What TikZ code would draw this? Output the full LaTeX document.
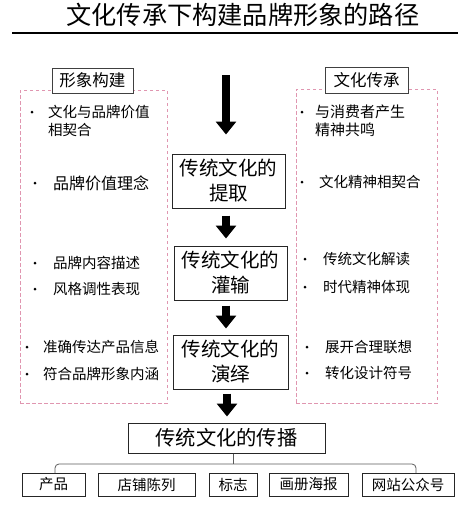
\documentclass[tikz,border=0pt]{standalone}
\usepackage{fontspec}
\setmainfont{Noto Sans CJK SC}
\usetikzlibrary{arrows.meta,calc}
\definecolor{pinkdash}{RGB}{224,150,176}
\definecolor{treegray}{RGB}{90,90,90}
\tikzset{
  dashbox/.style={draw=pinkdash, dash pattern=on 3.5pt off 2.5pt, line width=0.8pt},
  labelbox/.style={draw=black!75, fill=white, line width=0.8pt, inner sep=0pt},
  flowbox/.style={draw=black!85, line width=1pt, fill=white, inner sep=0pt, minimum height=54pt, align=center, font=\fontsize{19.5}{25}\selectfont},
  smallbox/.style={draw=black!85, line width=1pt, inner sep=0pt, minimum height=23pt, font=\fontsize{14.5}{16}\selectfont},
  bigarrow/.style={line width=7.5pt, -{Triangle[width=20pt,length=13pt]}},
  bul/.style={circle, fill=black, inner sep=0pt, minimum size=3pt},
  item/.style={anchor=west, inner sep=0pt, align=left, font=\fontsize{14.5}{18}\selectfont},
}
\begin{document}
\begin{tikzpicture}[x=1pt,y=-1pt]
\useasboundingbox (0,0) rectangle (466,507);
% title
\node[inner sep=0pt, font=\fontsize{25.2}{27}\selectfont] (title) at (243,15) {文化传承下构建品牌形象的路径};
\coordinate (tl) at (12,33);
\coordinate (tr) at (458,33);
\draw[line width=2pt] (tl) -- (tr);

% dashed groups
\node[dashbox, minimum width=147pt, minimum height=313pt, inner sep=0pt] (lgroup) at (93.5,246.5) {};
\node[dashbox, minimum width=141pt, minimum height=314pt, inner sep=0pt] (rgroup) at (366.5,246) {};
\node[labelbox, minimum width=81pt, minimum height=25pt, font=\fontsize{16.5}{18}\selectfont] (llabel) at (92.5,80.5) {形象构建};
\node[labelbox, minimum width=83pt, minimum height=26pt, font=\fontsize{16.5}{18}\selectfont] (rlabel) at (366.5,80) {文化传承};

% left items
\node[bul] (lb1) at (32,112) {};
\node[item] (lt1) at (48,121) {文化与品牌价值\\相契合};
\node[bul] (lb2) at (35,183) {};
\node[item, font=\fontsize{16}{18}\selectfont] (lt2) at (53,183) {品牌价值理念};
\node[bul] (lb3) at (35,263) {};
\node[item] (lt3) at (53,263) {品牌内容描述};
\node[bul] (lb4) at (35,289) {};
\node[item] (lt4) at (53,289) {风格调性表现};
\node[bul] (lb5) at (27,347) {};
\node[item] (lt5) at (43,347) {准确传达产品信息};
\node[bul] (lb6) at (27,374) {};
\node[item] (lt6) at (43,374) {符合品牌形象内涵};

% right items
\node[bul] (rb1) at (302,112) {};
\node[item, font=\fontsize{15}{18}\selectfont] (rt1) at (315,121) {与消费者产生\\精神共鸣};
\node[bul] (rb2) at (302,182) {};
\node[item] (rt2) at (319,182) {文化精神相契合};
\node[bul] (rb3) at (305,259) {};
\node[item] (rt3) at (323,259) {传统文化解读};
\node[bul] (rb4) at (305,287) {};
\node[item] (rt4) at (323,287) {时代精神体现};
\node[bul] (rb5) at (307,347) {};
\node[item] (rt5) at (325,347) {展开合理联想};
\node[bul] (rb6) at (307,373) {};
\node[item] (rt6) at (325,373) {转化设计符号};

% central flow
\coordinate (top) at (226,75);
\node[flowbox, minimum width=113pt] (b1) at (228.5,181) {传统文化的\\提取};
\node[flowbox, minimum width=113pt] (b2) at (230.5,273) {传统文化的\\灌输};
\node[flowbox, minimum width=115pt] (b3) at (230.5,362) {传统文化的\\演绎};
\node[draw=black!85, line width=1pt, inner sep=0pt, minimum width=197pt, minimum height=30pt, font=\fontsize{20.3}{22}\selectfont] (main) at (226.5,438) {传统文化的传播};

\draw[bigarrow, shorten >=19pt] (top) -- (top |- b1.north);
\draw[bigarrow, shorten <=7pt, shorten >=7pt] (b1.south -| top) -- (b2.north -| top);
\draw[bigarrow, shorten <=5pt, shorten >=6pt] (b2.south -| top) -- (b3.north -| top);
\draw[bigarrow, shorten <=4pt, shorten >=6pt] ($(b3.south -| top)+(1,0)$) -- ($(main.north -| top)+(1,0)$);

% bottom boxes
\node[smallbox, minimum width=63pt] (p1) at (53.5,484.5) {产品};
\node[smallbox, minimum width=97pt] (p2) at (146.5,484.5) {店铺陈列};
\node[smallbox, minimum width=48pt] (p3) at (233,484.5) {标志};
\node[smallbox, minimum width=79pt] (p4) at (308.5,484.5) {画册海报};
\node[smallbox, minimum width=92pt] (p5) at (408,484.5) {网站公众号};

\coordinate (j) at (233,464);
\coordinate (L) at (55,473);
\coordinate (R) at (416,473);
\draw[treegray, line width=0.8pt] (main.south -| j) -- (j);
\draw[treegray, line width=0.8pt, rounded corners=4pt] (L) |- (j) -| (R);
\end{tikzpicture}
\end{document}
